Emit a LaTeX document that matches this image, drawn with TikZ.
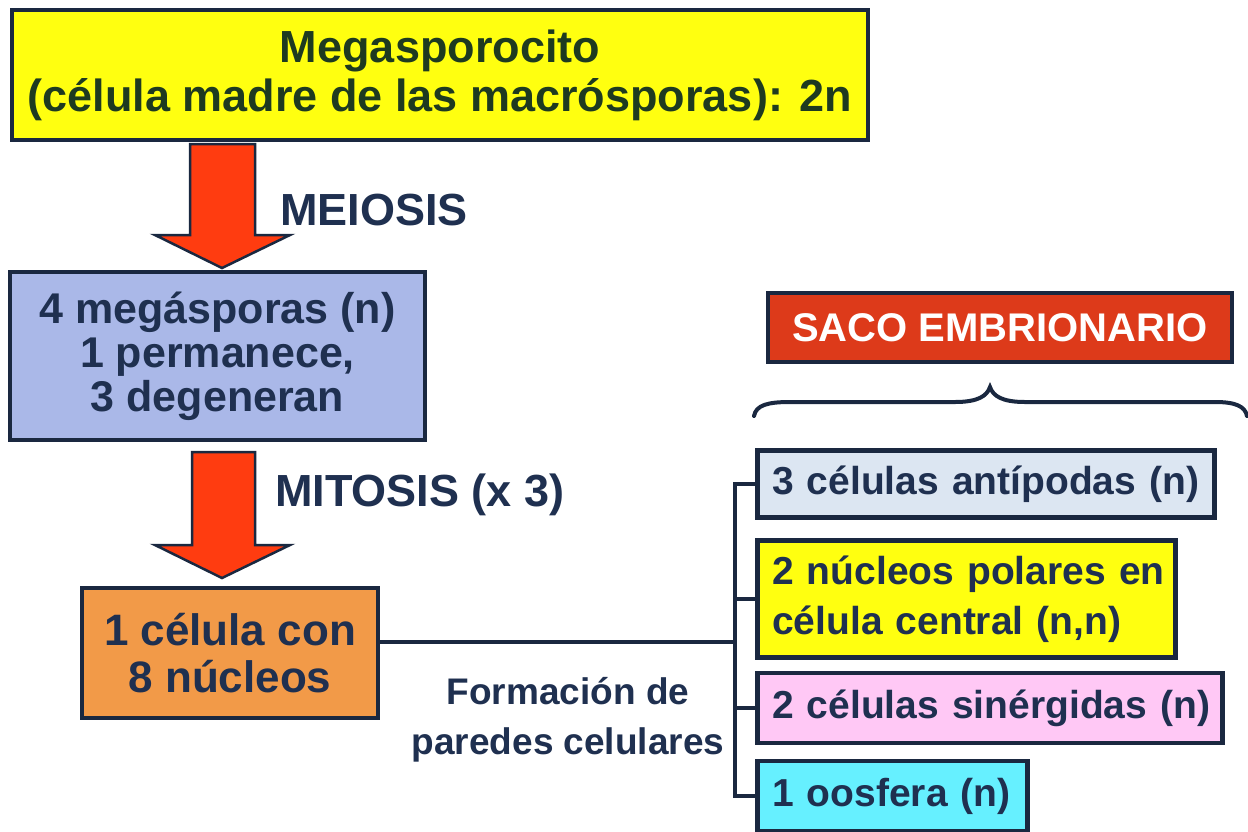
\documentclass[tikz,border=0pt]{standalone}
\usepackage{fontspec}
\setmainfont{Liberation Sans}
\usetikzlibrary{calc}
\definecolor{bordc}{HTML}{1A2840}
\definecolor{txtc}{HTML}{1F3050}
\definecolor{txtg}{HTML}{1E3A20}
\definecolor{yel}{HTML}{FFFF10}
\definecolor{bluebox}{HTML}{AAB8E8}
\definecolor{orangebox}{HTML}{F29A48}
\definecolor{redbox}{HTML}{DD3A1A}
\definecolor{grayblue}{HTML}{DCE6F2}
\definecolor{pinkbox}{HTML}{FFC8F5}
\definecolor{cyanbox}{HTML}{66F0FF}
\definecolor{arrred}{HTML}{FF3C10}
\tikzset{
  box/.style={draw=bordc, line width=4.5pt, inner sep=0pt, align=center, text=txtc,
    font=\bfseries\fontsize{44}{46}\selectfont},
  rbox/.style={draw=bordc, line width=4.5pt, inner xsep=15pt, inner ysep=0pt, align=left, text=txtc,
    anchor=west, font=\bfseries\fontsize{39}{46}\selectfont},
  lbl/.style={text=txtc, inner sep=0pt, font=\bfseries\fontsize{45}{50}\selectfont},
  bigarrow/.style={fill=arrred, draw=bordc, line width=2.5pt, line join=miter},
  conn/.style={draw=bordc, line width=4pt}
}
\begin{document}
\begin{tikzpicture}[x=1pt,y=-1pt]
\useasboundingbox[fill=white] (0,0) rectangle (1248,831);
% top box
\node[box, fill=yel, text=txtg, minimum width=856, minimum height=130,
  font=\bfseries\fontsize{45}{49}\selectfont] (top) at (440,75)
  {Megasporocito\\(célula madre de las macrósporas): 2n};
% arrow 1
\draw[bigarrow] (190,144) -- (255,144) -- (255,235) -- (290,235) -- (222,268) -- (155,235) -- (190,235) -- cycle;
\node[lbl, anchor=west] (meiosis) at (280,210) {MEIOSIS};
% blue box
\node[box, fill=bluebox, minimum width=415, minimum height=168,
  font=\bfseries\fontsize{43}{44}\selectfont] (blue) at (217.5,356)
  {4 megásporas (n)\\1 permanece,\\3 degeneran};
% arrow 2
\draw[bigarrow] (192,452) -- (255,452) -- (255,545) -- (290,545) -- (222,578) -- (155,545) -- (192,545) -- cycle;
\node[lbl, anchor=west] (mitosis) at (275,495) {MITOSIS (x 3)};
% orange box
\node[box, fill=orangebox, text=txtc, minimum width=296, minimum height=130,
  font=\bfseries\fontsize{44}{47}\selectfont] (orange) at (230,653)
  {1 célula con\\8 núcleos};
% label
\node[lbl, align=center, font=\bfseries\fontsize{37}{50}\selectfont] (form) at (568,720)
  {Formación de\\paredes celulares};
% saco
\node[box, fill=redbox, text=white, minimum width=464, minimum height=69,
  font=\bfseries\fontsize{40}{44}\selectfont] (saco) at (1000,327.5) {SACO EMBRIONARIO};
% brace
\draw[bordc, line width=4pt, line cap=round]
  (754,416) .. controls (756,405) and (768,402) .. (790,402) -- (955,402)
  .. controls (978,402) and (987,396) .. (990,387)
  .. controls (993,396) and (1002,402) .. (1025,402) -- (1215,402)
  .. controls (1235,402) and (1245,406) .. (1247,416);
% right boxes
\node[rbox, fill=grayblue, text width=427, minimum height=67] (antip) at (755,484)
  {\mbox{3 células antípodas (n)}};
\node[rbox, fill=yel, text width=388, minimum height=117,
  font=\bfseries\fontsize{39}{50}\selectfont] (nuc) at (755,599)
  {\mbox{2 núcleos polares en}\\\mbox{célula central (n,n)}};
\node[rbox, fill=pinkbox, text=txtc, text width=435, minimum height=70] (sin) at (755,708)
  {\mbox{2 células sinérgidas (n)}};
\node[rbox, fill=cyanbox, text width=240, minimum height=70] (oos) at (755,796)
  {\mbox{1 oosfera (n)}};
% connectors
\coordinate (j) at (735,642);
\draw[conn] (orange.east |- j) -- (j);
\draw[conn] (antip.west) -- ++(-20,0) |- (oos.west);
\draw[conn] (nuc.west) -- ++(-20,0);
\draw[conn] (sin.west) -- ++(-20,0);
\end{tikzpicture}
\end{document}
